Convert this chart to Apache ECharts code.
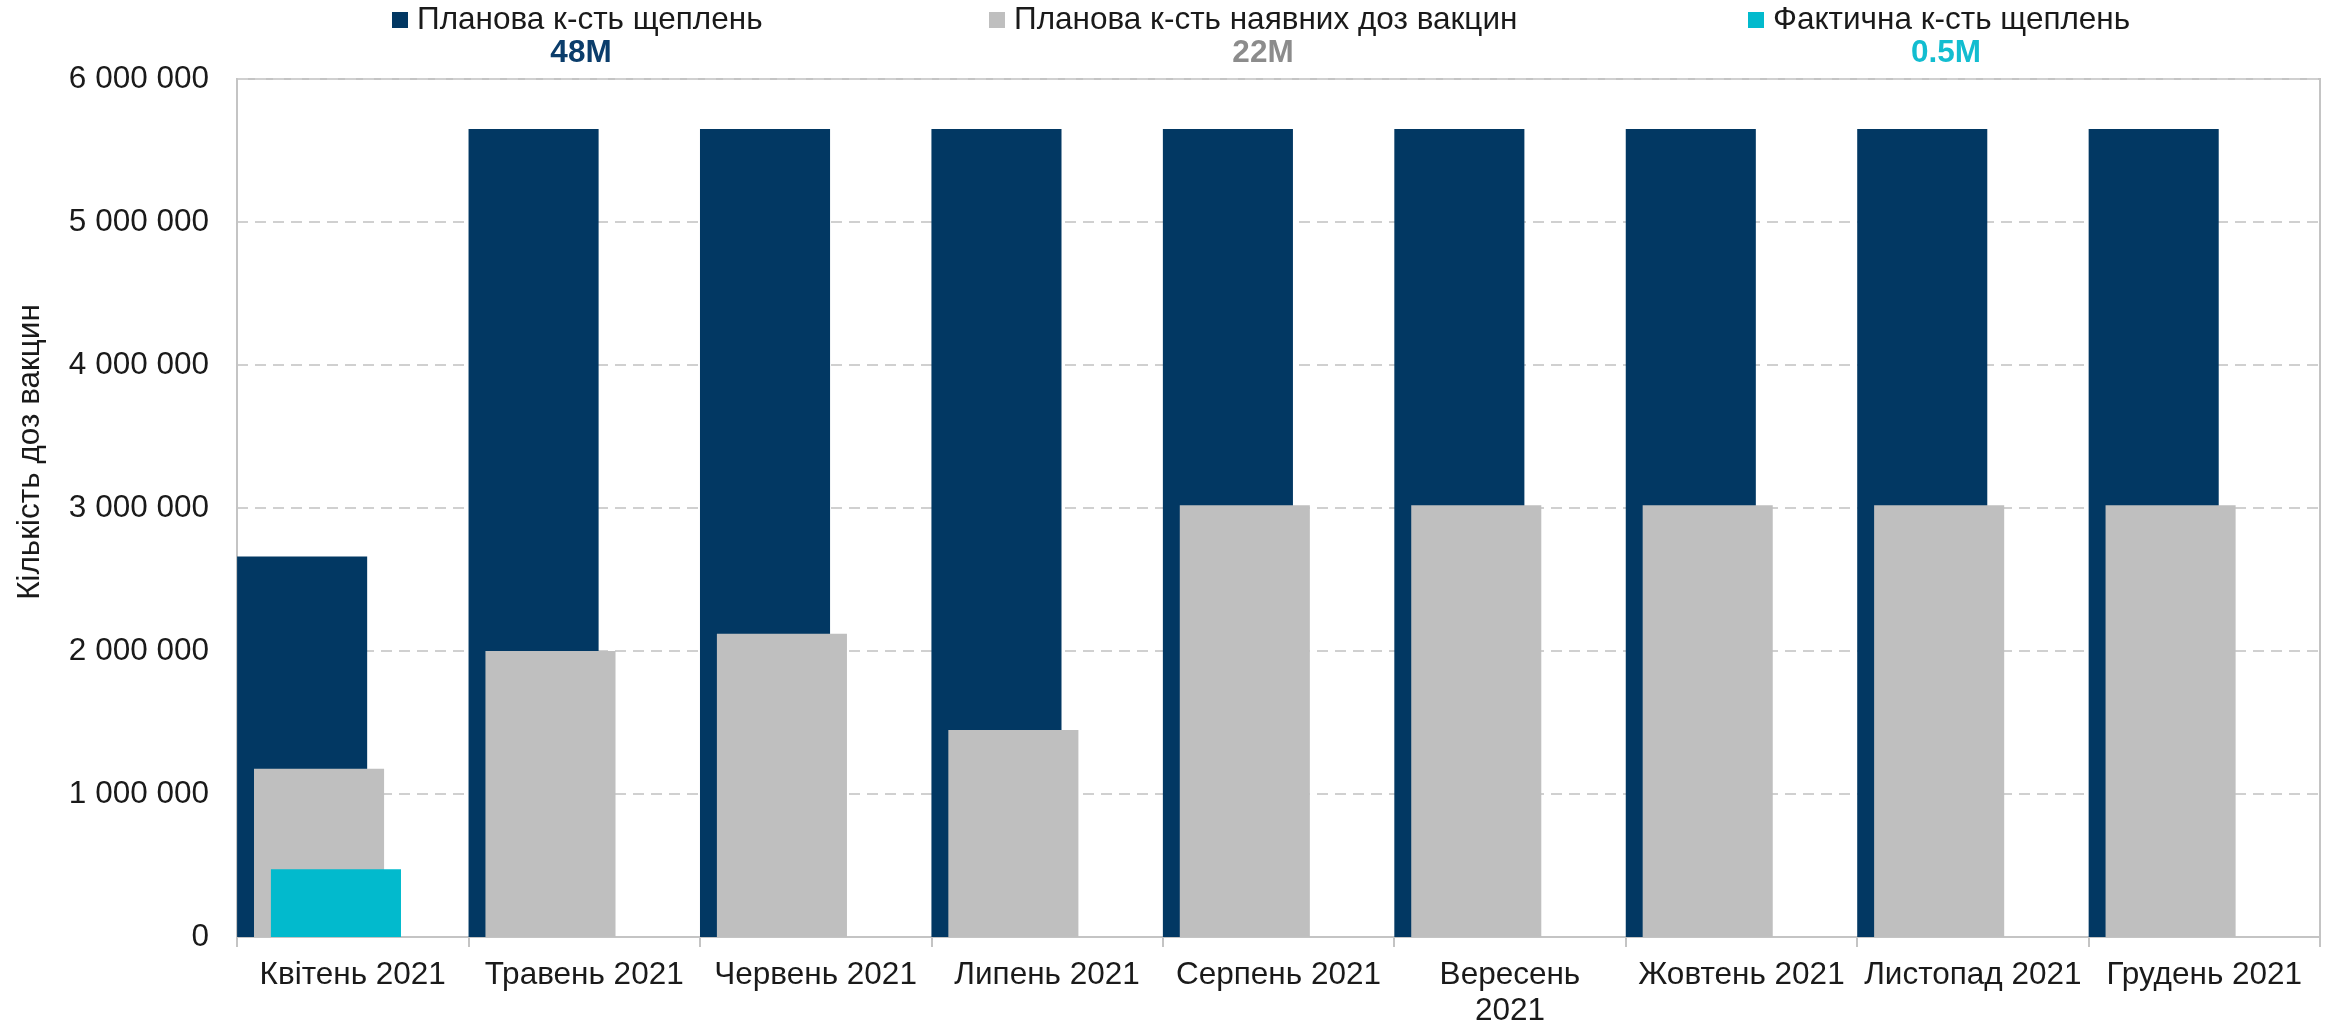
<!DOCTYPE html>
<html>
<head>
<meta charset="utf-8">
<script src="https://cdn.jsdelivr.net/npm/echarts@6/dist/echarts.min.js"></script>
<style>
html,body{margin:0;padding:0;background:#fff;}
#chart{width:2328px;height:1029px;}
</style>
</head>
<body>
<div id="chart"></div>
<script>
const categories = ['Квітень 2021','Травень 2021','Червень 2021','Липень 2021','Серпень 2021','Вересень 2021','Жовтень 2021','Листопад 2021','Грудень 2021'];
const seriesNames = ['Планова к-сть щеплень','Планова к-сть наявних доз вакцин','Фактична к-сть щеплень'];
const plannedVaccinations = [2660000, 5650000, 5650000, 5650000, 5650000, 5650000, 5650000, 5650000, 5650000];
const plannedDosesAvailable = [1176000, 2000000, 2120000, 1448000, 3020000, 3020000, 3020000, 3020000, 3020000];
const actualVaccinations = [474000, null, null, null, null, null, null, null, null];
const yTicks = [0, 1000000, 2000000, 3000000, 4000000, 5000000, 6000000];

const colDark = '#023863';
const colGray = '#BFBFBF';
const colCyan = '#02BACD';
const FS = 31.5;
const FONT = '"Liberation Sans", Arial, sans-serif';

function total(arr){
  const s = arr.reduce((a,b)=>a+(b||0),0)/1e6;
  return (s >= 10 ? Math.round(s).toString() : s.toFixed(1)) + 'M';
}
function fmt(v){ return String(v).replace(/\B(?=(\d{3})+(?!\d))/g,' '); }

const chart = echarts.init(document.getElementById('chart'), null, {renderer:'canvas'});
const legendBase = {
  orient:'horizontal', top:4, padding:0, icon:'rect', itemWidth:16, itemHeight:16,
  textStyle:{fontSize:FS, fontFamily:FONT, color:'#1a1a1a', padding:[0,0,0,4]},
  selectedMode:false
};
chart.setOption({
  animation:false,
  textStyle:{fontFamily:FONT},
  legend:[
    Object.assign({}, legendBase, {left:392, data:[seriesNames[0]]}),
    Object.assign({}, legendBase, {left:989, data:[seriesNames[1]]}),
    Object.assign({}, legendBase, {left:1748, data:[seriesNames[2]]})
  ],
  graphic:[
    {type:'text', left:null, x:581, y:53, style:{text:total(plannedVaccinations), fill:'#0B3D6B', font:'bold '+FS+'px '+FONT, textAlign:'center', textVerticalAlign:'middle'}},
    {type:'text', x:1263, y:53, style:{text:total(plannedDosesAvailable), fill:'#8C8C8C', font:'bold '+FS+'px '+FONT, textAlign:'center', textVerticalAlign:'middle'}},
    {type:'text', x:1946, y:53, style:{text:total(actualVaccinations), fill:'#12BDD0', font:'bold '+FS+'px '+FONT, textAlign:'center', textVerticalAlign:'middle'}},
    {type:'text', x:30, y:452, rotation:Math.PI/2, style:{text:'Кількість доз вакцин', fill:'#1a1a1a', font:FS+'px '+FONT, textAlign:'center', textVerticalAlign:'middle'}}
  ],
  grid:{left:237, right:8, top:79, bottom:89, show:true, borderColor:'#C4C4C4', borderWidth:2, backgroundColor:'transparent'},
  xAxis:{
    type:'category', data:categories, boundaryGap:true,
    axisLine:{show:true, lineStyle:{color:'#C4C4C4', width:2}},
    axisTick:{show:true, length:10, lineStyle:{color:'#C4C4C4', width:2}},
    axisLabel:{fontSize:FS, fontFamily:FONT, color:'#1a1a1a', margin:20, lineHeight:36, interval:0,
      formatter:function(v){ return v === 'Вересень 2021' ? 'Вересень\n2021' : v; }}
  },
  yAxis:{
    type:'value', min:yTicks[0], max:yTicks[yTicks.length-1], interval:yTicks[1]-yTicks[0],
    axisLine:{show:true, lineStyle:{color:'#C4C4C4', width:2}},
    axisTick:{show:false},
    axisLabel:{fontSize:FS, fontFamily:FONT, color:'#1a1a1a', margin:28, formatter:fmt},
    splitLine:{show:true, lineStyle:{color:'#D0D0D0', width:2, type:[11,7]}}
  },
  series:[
    {name:seriesNames[0], type:'bar', data:plannedVaccinations, barWidth:'56.2%', barGap:'-87%', itemStyle:{color:colDark}},
    {name:seriesNames[1], type:'bar', data:plannedDosesAvailable, barWidth:'56.2%', barGap:'-87%', itemStyle:{color:colGray}},
    {name:seriesNames[2], type:'bar', data:actualVaccinations, barWidth:'56.2%', barGap:'-87%', itemStyle:{color:colCyan}},
    {name:'spacer', type:'bar', data:categories.map(()=>null), barWidth:'78%', barGap:'-87%', silent:true, itemStyle:{color:'transparent'}}
  ]
});
</script>
</body>
</html>
